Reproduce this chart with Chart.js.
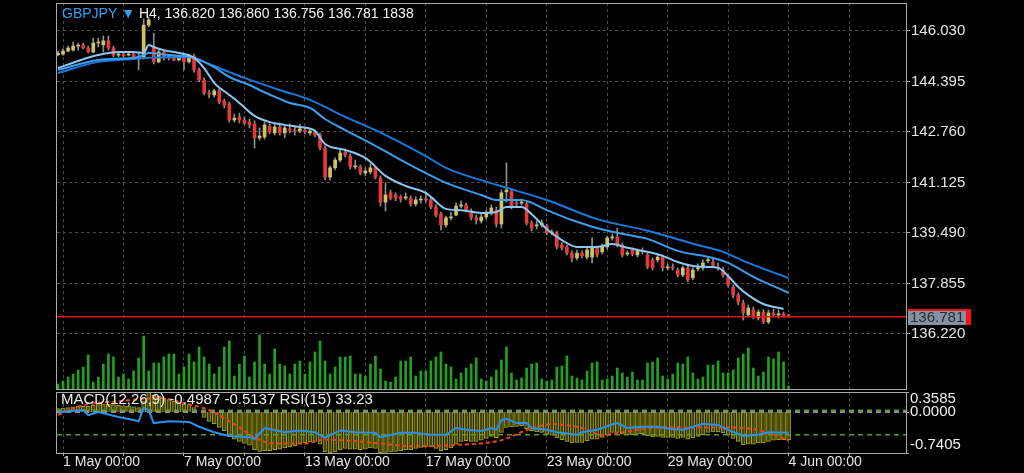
<!DOCTYPE html>
<html>
<head>
<meta charset="utf-8">
<script src="https://cdn.jsdelivr.net/npm/chart.js@4.4.1/dist/chart.umd.min.js"></script>
<style>
  html, body { margin: 0; background: #000; }
  #wrap { position: relative; width: 1024px; height: 473px; }
  canvas { position: absolute; left: 0; top: 0; }
</style>
</head>
<body>
<div id="wrap">
  <canvas id="main" width="1024" height="473"></canvas>
  <canvas id="macd" width="1024" height="473"></canvas>
</div>
<script>
// GBPJPY H4, 30 Apr 20:00 .. 4 Jun 00:00 (bar index 0..145)
const symbolText = 'GBPJPY';
const headerText = 'H4, 136.820 136.860 136.756 136.781 1838';
const macdText = 'MACD(12,26,9) -0.4987 -0.5137 RSI(15) 33.23';

const timeLabels = ['1 May 00:00', '7 May 00:00', '13 May 00:00', '17 May 00:00', '23 May 00:00', '29 May 00:00', '4 Jun 00:00'];
const timeLabelBars = [1, 25, 49, 73, 97, 121, 145];
const gridBars = [1, 13, 25, 37, 49, 61, 73, 85, 97, 109, 121, 133, 145, 157];
const priceTicks = [146.030, 144.395, 142.760, 141.125, 139.490, 137.855, 136.220];
const macdTicks = [0.3585, 0.0000, -0.7405];
const rsiLevels = [70, 30];

const opens = [
  145.26,145.28,145.38,145.41,145.54,145.58,145.48,145.35,145.64,145.58,
  145.71,145.48,145.25,145.28,145.25,145.28,145.16,145.19,146.22,145.48,
  145.03,145.35,145.16,145.19,145.09,145.16,145.03,145.22,144.77,144.44,
  144.02,143.96,144.09,143.76,143.67,143.15,143.25,143.15,143.08,143.02,
  142.57,142.60,142.95,142.73,142.92,142.73,142.86,142.82,142.79,142.82,
  142.73,142.76,142.66,142.24,141.30,141.60,141.85,142.11,141.98,141.63,
  141.63,141.43,141.47,141.60,141.27,140.49,140.79,140.72,140.66,140.62,
  140.62,140.43,140.56,140.59,140.56,140.33,140.11,139.75,139.98,140.07,
  140.36,140.40,140.20,139.98,139.88,140.01,140.14,140.23,139.78,140.82,
  140.85,140.46,140.46,140.43,139.81,139.72,139.75,139.72,139.49,139.49,
  139.10,139.04,138.84,138.68,138.84,138.71,138.71,139.01,138.88,139.04,
  139.33,139.36,139.10,138.81,138.94,138.78,138.91,138.78,138.62,138.62,
  138.71,138.36,138.39,138.29,138.13,138.36,138.04,138.33,138.36,138.59,
  138.55,138.39,138.29,138.07,137.74,137.48,137.22,136.84,137.00,136.74,
  136.93,136.61,136.90,136.84,136.87,136.820
];
const highs = [
  145.38,145.45,145.54,145.67,145.64,145.64,145.54,145.80,145.80,145.87,
  145.87,145.54,145.35,145.31,145.35,145.31,145.31,146.42,146.48,145.96,
  145.41,145.41,145.25,145.25,145.22,145.22,145.28,145.28,144.83,144.51,
  144.12,144.15,144.15,143.83,143.73,143.34,143.37,143.25,143.18,143.12,
  142.89,143.08,143.02,143.02,143.05,142.99,143.02,142.95,143.02,142.92,
  142.86,142.82,142.73,142.31,141.66,141.92,142.18,142.21,142.05,141.85,
  141.69,141.60,141.72,141.66,141.34,141.11,140.88,140.79,140.72,140.79,
  140.69,140.66,140.69,140.79,140.62,140.40,140.17,140.04,140.17,140.46,
  140.53,140.46,140.27,140.07,140.11,140.23,140.40,140.33,140.88,141.76,
  140.92,140.56,140.59,140.49,139.88,139.88,139.91,139.78,139.59,139.55,
  139.17,139.10,138.91,138.94,138.91,139.04,139.33,139.07,139.13,139.39,
  139.46,139.65,139.17,138.91,139.01,138.97,139.01,138.84,138.68,138.78,
  138.78,138.49,138.49,138.36,138.42,138.42,138.36,138.49,138.62,138.71,
  138.68,138.52,138.39,138.13,137.81,137.55,137.32,137.16,137.09,137.00,
  137.00,137.00,137.03,137.00,136.93,136.860
];
const lows = [
  145.22,145.25,145.35,145.38,145.41,145.45,145.32,145.32,145.51,145.35,
  145.41,145.19,145.19,145.19,145.22,145.12,144.77,145.12,146.16,144.96,
  145.00,145.09,145.09,145.06,145.06,144.77,145.00,144.70,144.38,143.96,
  143.86,143.89,143.67,143.54,143.08,143.08,143.05,142.99,142.89,142.24,
  142.50,142.53,142.70,142.66,142.66,142.57,142.73,142.66,142.73,142.70,
  142.66,142.60,142.18,141.21,141.21,141.53,141.79,141.95,141.56,141.56,
  141.37,141.34,141.40,141.24,140.36,140.20,140.56,140.53,140.49,140.56,
  140.36,140.36,140.46,140.49,140.27,140.01,139.59,139.68,139.91,140.04,
  140.30,140.17,139.91,139.78,139.81,139.94,140.07,139.68,139.65,140.49,
  140.27,140.33,140.40,139.75,139.55,139.62,139.68,139.43,139.43,138.97,
  138.94,138.78,138.55,138.62,138.68,138.65,138.52,138.71,138.81,138.97,
  139.26,139.04,138.71,138.75,138.75,138.71,138.81,138.33,138.29,138.55,
  138.26,138.29,138.29,138.07,138.07,137.91,137.97,138.26,138.29,138.52,
  138.39,138.29,138.07,137.74,137.39,137.16,136.67,136.77,136.71,136.67,
  136.55,136.55,136.77,136.74,136.76,136.756
];
const closes = [
  145.31,145.38,145.48,145.54,145.56,145.48,145.35,145.64,145.67,145.71,
  145.48,145.25,145.28,145.23,145.28,145.16,145.19,146.22,146.39,145.03,
  145.35,145.16,145.19,145.09,145.16,145.03,145.22,144.77,144.44,144.02,
  143.99,144.09,143.73,143.63,143.15,143.21,143.15,143.05,142.99,142.57,
  142.63,142.99,142.76,142.92,142.73,142.89,142.82,142.79,142.86,142.76,
  142.79,142.66,142.24,141.30,141.60,141.85,142.08,142.02,141.63,141.66,
  141.43,141.50,141.60,141.30,140.49,140.72,140.62,140.62,140.59,140.66,
  140.43,140.56,140.59,140.56,140.33,140.07,139.75,139.98,140.01,140.36,
  140.40,140.23,139.98,139.91,140.01,140.14,140.30,139.78,140.79,140.88,
  140.33,140.43,140.49,139.81,139.65,139.75,139.81,139.49,139.52,139.04,
  139.01,138.84,138.68,138.84,138.75,138.94,139.01,138.78,139.04,139.33,
  139.36,139.10,138.78,138.84,138.81,138.91,138.88,138.39,138.36,138.71,
  138.36,138.39,138.36,138.13,138.36,137.97,138.29,138.36,138.52,138.62,
  138.45,138.36,138.13,137.81,137.48,137.26,136.90,137.06,136.77,136.93,
  136.61,136.90,136.84,136.87,136.82,136.781
];
const volumes = [
  3000,
  4800,7200,9000,11400,13200,20400,4200,7200,15000,21000,
  19200,7200,9000,6000,10800,18600,31800,10800,15600,15600,
  19200,21000,21000,9000,13200,21000,16200,25200,19200,15000,
  9000,13200,25200,28800,7800,15000,19800,7200,16200,32400,
  15000,9000,24000,15000,13800,9000,15000,16800,9000,16200,
  22200,28800,16800,9000,13200,19200,19200,19800,9000,9000,
  7800,15000,19800,12000,4800,4200,7200,16800,16800,19200,
  7800,10800,10800,16800,19200,22200,15000,
  13200,6000,9600,12600,15000,18600,6000,4800,7200,11400,
  17400,25200,9600,5400,6600,12600,15000,15600,6000,4800,
  5400,13200,13800,19800,7800,6600,5400,10800,15600,16200,
  5400,6000,7800,12600,9600,7200,10200,5400,5400,15600,
  16200,18600,7800,6000,9000,15600,15000,19200,9600,6000,
  7200,14400,14400,16800,9600,9600,11400,18600,21000,24600,
  12600,7800,10200,19200,18000,22200,16200,1838
];

// moving averages, read at selected bars
const fastBars = [0,4,8,12,15,17,18,19,21,24,27,29,31,34,36,39,42,45,48,51,53,57,61,65,69,73,74,77,80,84,87,89,92,94,97,100,103,107,110,113,117,120,123,126,129,131,133,135,137,140,144];
const fastValues = [144.83,145.06,145.25,145.35,145.35,145.32,145.58,145.51,145.41,145.32,145.16,144.83,144.35,143.96,143.70,143.28,143.08,142.99,142.92,142.79,142.37,142.18,141.92,141.34,141.01,140.79,140.66,140.27,140.23,140.14,140.17,140.33,140.33,140.10,139.62,139.26,139.04,139.04,139.13,139.01,138.88,138.75,138.55,138.42,138.39,138.36,138.10,137.74,137.48,137.19,137.03];
const midBars = [0,8,16,18,22,27,31,34,38,40,44,46,50,53,57,62,67,73,77,84,87,92,97,102,107,113,117,123,130,133,138,145];
const midValues = [144.77,145.09,145.19,145.32,145.25,145.16,144.86,144.54,144.28,144.12,143.83,143.70,143.54,143.18,142.82,142.40,141.95,141.43,141.11,140.72,140.56,140.56,140.23,139.91,139.65,139.43,139.30,138.91,138.68,138.52,138.07,137.55];
const slowBars = [0,8,15,18,26,30,34,37,44,50,57,63,73,77,87,97,107,117,127,132,137,145];
const slowValues = [144.67,145.03,145.12,145.16,145.19,144.96,144.70,144.51,144.12,143.80,143.25,142.82,141.98,141.60,141.05,140.56,139.94,139.56,139.10,138.88,138.52,138.03];

// MACD main (histogram), signal and RSI
const macdMain = [
  0.06,0.07,0.08,0.09,0.10,0.10,0.10,0.12,0.13,0.14,
  0.14,0.13,0.12,0.11,0.10,0.09,0.08,0.20,0.3585,0.30,
  0.28,0.25,0.22,0.19,0.17,0.14,0.13,0.08,0.00,-0.10,
  -0.17,-0.21,-0.28,-0.34,-0.44,-0.49,-0.53,-0.57,-0.60,-0.68,
  -0.71,-0.70,-0.70,-0.68,-0.67,-0.65,-0.63,-0.61,-0.58,-0.56,
  -0.54,-0.53,-0.58,-0.72,-0.74,-0.72,-0.68,-0.66,-0.67,-0.67,
  -0.68,-0.67,-0.65,-0.66,-0.7405,-0.73,-0.72,-0.71,-0.70,-0.68,
  -0.68,-0.66,-0.64,-0.62,-0.63,-0.66,-0.70,-0.68,-0.65,-0.58,
  -0.53,-0.52,-0.53,-0.53,-0.51,-0.48,-0.44,-0.47,-0.37,-0.28,
  -0.27,-0.26,-0.25,-0.30,-0.34,-0.36,-0.37,-0.40,-0.42,-0.47,
  -0.50,-0.53,-0.56,-0.55,-0.55,-0.52,-0.49,-0.49,-0.46,-0.41,
  -0.37,-0.37,-0.40,-0.41,-0.41,-0.40,-0.39,-0.43,-0.45,-0.44,
  -0.46,-0.46,-0.46,-0.48,-0.46,-0.49,-0.47,-0.44,-0.41,-0.37,
  -0.36,-0.36,-0.38,-0.42,-0.48,-0.53,-0.59,-0.58,-0.58,-0.56,
  -0.56,-0.53,-0.51,-0.50,-0.50,-0.4987
];
const signalBars = [0,5,12,20,25,30,36,39,43,49,53,58,64,71,78,88,93,98,104,108,112,119,127,133,139,145];
const signalValues = [-0.05,0.12,0.19,0.25,0.16,0.03,-0.28,-0.46,-0.57,-0.57,-0.50,-0.52,-0.57,-0.62,-0.60,-0.51,-0.33,-0.22,-0.29,-0.42,-0.37,-0.28,-0.28,-0.28,-0.33,-0.5137];
const rsiBars = [0,5,6,8,12,15,16,17,18,19,22,26,28,31,34,38,39,41,45,48,51,53,56,59,63,64,68,71,74,77,79,81,84,86,87,88,89,91,93,94,97,99,103,104,107,110,111,113,116,119,122,124,128,131,133,136,139,141,145];
const rsiValues = [67,70,62,67,59,54,52,74,70,49,52,51,43,34,28,26,23,41,34,37,34,25,37,34,33,26,33,33,30,30,41,38,36,41,38,54,56,49,49,41,38,34,30,34,38,47,49,41,43,43,39,38,48,46,38,28,30,34,33.23];

const X_MIN = -0.2, X_MAX = 168.3;
const lastPrice = closes[closes.length - 1];
const bars = closes.map((c, i) => i);
const pairs = (xs, ys) => xs.map((x, i) => ({ x, y: ys[i] }));

Chart.defaults.font.family = '"Liberation Sans", Arial, sans-serif';
Chart.defaults.color = '#e6e6e6';

const xGridScale = {
  type: 'linear', min: X_MIN, max: X_MAX, offset: false,
  afterBuildTicks: s => { s.ticks = gridBars.map(v => ({ value: v })); },
  grid: { color: '#4a4a4a', offset: false },
  border: { display: false, dash: [3, 3] }
};

const mainDecor = {
  id: 'mainDecor',
  afterDraw(chart) {
    const { ctx, chartArea: a, scales } = chart;
    ctx.save();
    ctx.strokeStyle = '#a8a8a8';
    ctx.lineWidth = 1;
    ctx.strokeRect(a.left - 0.5, a.top + 0.5, a.right - a.left + 1, a.bottom - a.top);
    ctx.font = '14px "Liberation Sans"';
    ctx.textBaseline = 'middle';
    ctx.fillStyle = '#2f9ff0';
    const head = symbolText + ' \u25BC';
    ctx.fillText(head, 62, 14);
    const x = 62 + ctx.measureText(head + ' ').width;
    ctx.fillStyle = '#f2f2f2';
    ctx.fillText(headerText, x, 14);
    const y = Math.round(scales.y.getPixelForValue(lastPrice));
    ctx.fillStyle = '#ff1010';
    ctx.fillRect(a.right + 2, y - 8, 63, 16);
    ctx.fillStyle = '#8393a5';
    ctx.fillRect(a.right + 2, y - 6, 58, 14);
    ctx.fillStyle = '#2b2b2b';
    ctx.font = '15px "Liberation Sans"';
    ctx.fillText(lastPrice.toFixed(3), a.right + 4, y + 1);
    ctx.restore();
  }
};

new Chart(document.getElementById('main'), {
  type: 'bar',
  data: {
    datasets: [
      { type: 'line', label: 'price', data: [{ x: X_MIN, y: lastPrice }, { x: X_MAX, y: lastPrice }],
        borderColor: '#e01414', borderWidth: 1.5, pointRadius: 0, order: 0 },
      { type: 'line', label: 'fast MA', data: pairs(fastBars, fastValues), borderColor: '#8ec6f2',
        borderWidth: 2, pointRadius: 0, cubicInterpolationMode: 'monotone', order: 1 },
      { type: 'line', label: 'mid MA', data: pairs(midBars, midValues), borderColor: '#3d9cec',
        borderWidth: 2, pointRadius: 0, cubicInterpolationMode: 'monotone', order: 2 },
      { type: 'line', label: 'slow MA', data: pairs(slowBars, slowValues), borderColor: '#1b78dc',
        borderWidth: 2, pointRadius: 0, cubicInterpolationMode: 'monotone', order: 3 },
      { label: 'body', data: bars.map(i => ({ x: i, y: [opens[i], closes[i]] })),
        backgroundColor: bars.map(i => closes[i] >= opens[i] ? '#cdc565' : '#e23b3b'),
        barThickness: 3, minBarLength: 1, grouped: false, order: 5 },
      { label: 'wick', data: bars.map(i => ({ x: i, y: [lows[i], highs[i]] })),
        backgroundColor: '#8f8f8f', barThickness: 1, grouped: false, order: 6 },
      { label: 'volume', data: bars.map(i => ({ x: i, y: volumes[i] })), yAxisID: 'yv',
        backgroundColor: '#22a022', barThickness: 2, grouped: false, order: 7 }
    ]
  },
  options: {
    responsive: false,
    animation: false,
    layout: { padding: { left: 57, top: 3, right: 0, bottom: 84 } },
    plugins: { legend: { display: false }, tooltip: { enabled: false } },
    scales: {
      x: Object.assign({}, xGridScale, {
        ticks: { display: false },
        grid: { color: '#4a4a4a', offset: false, drawTicks: false },
        afterFit: s => { s.height = 0; s.paddingLeft = 0; s.paddingRight = 0; }
      }),
      y: {
        position: 'right', min: 134.439, max: 146.936,
        afterBuildTicks: s => { s.ticks = priceTicks.map(v => ({ value: v })); },
        ticks: { color: '#e6e6e6', font: { size: 15 }, padding: 1, autoSkip: false,
                 callback: v => v.toFixed(3) },
        grid: { color: '#4a4a4a', tickColor: '#aaaaaa', tickLength: 4 },
        border: { display: false, dash: [3, 3] },
        afterFit: s => { s.width = 118; s.paddingTop = 0; s.paddingBottom = 0; }
      },
      yv: { display: false, min: 0, max: 231600 }
    }
  },
  plugins: [mainDecor]
});

const macdDecor = {
  id: 'macdDecor',
  afterDraw(chart) {
    const { ctx, chartArea: a, scales } = chart;
    ctx.save();
    ctx.strokeStyle = '#a8a8a8';
    ctx.lineWidth = 1;
    ctx.strokeRect(a.left - 0.5, a.top + 0.5, a.right - a.left + 1, a.bottom - a.top);
    ctx.font = '15px "Liberation Sans"';
    ctx.textBaseline = 'middle';
    ctx.fillStyle = '#eeeeee';
    ctx.fillText(macdText, 61, a.top + 8);
    macdTicks.forEach(v => {
      const p = scales.ym.getPixelForValue(v);
      const y = Math.min(Math.max(p, a.top + 7), a.bottom - 8);
      ctx.strokeStyle = '#aaaaaa';
      ctx.beginPath();
      ctx.moveTo(a.right, Math.round(p) + 0.5);
      ctx.lineTo(a.right + 3, Math.round(p) + 0.5);
      ctx.stroke();
      ctx.fillText(v.toFixed(4), a.right + 4, y);
    });
    ctx.restore();
  }
};

new Chart(document.getElementById('macd'), {
  type: 'bar',
  data: {
    datasets: [
      { type: 'line', label: 'RSI(15)', data: pairs(rsiBars, rsiValues), yAxisID: 'yr',
        borderColor: '#2b8ff0', borderWidth: 2, pointRadius: 0, order: 1 },
      { type: 'line', label: 'signal', data: pairs(signalBars, signalValues), yAxisID: 'ym',
        borderColor: '#f2401e', borderWidth: 2, borderDash: [4, 3], pointRadius: 0,
        cubicInterpolationMode: 'monotone', order: 2 },
      { type: 'line', label: 'zero', data: [{ x: X_MIN, y: 0 }, { x: X_MAX, y: 0 }], yAxisID: 'ym',
        borderColor: '#8a8a8a', borderWidth: 2, borderDash: [5, 4], pointRadius: 0, order: 3 },
      ...rsiLevels.map(lv => ({ type: 'line', label: 'RSI ' + lv, data: [{ x: X_MIN, y: lv }, { x: X_MAX, y: lv }],
        yAxisID: 'yr', borderColor: '#5a9e1c', borderWidth: 1.5, borderDash: [5, 4], pointRadius: 0, order: 4 })),
      { label: 'MACD', data: bars.map(i => ({ x: i, y: macdMain[i] })), yAxisID: 'ym',
        backgroundColor: '#46460a', borderColor: '#a3a31e', borderWidth: 1,
        barThickness: 4, grouped: false, order: 5 }
    ]
  },
  options: {
    responsive: false,
    animation: false,
    layout: { padding: { left: 57, top: 392, right: 118, bottom: 0 } },
    plugins: { legend: { display: false }, tooltip: { enabled: false } },
    scales: {
      x: Object.assign({}, xGridScale, {
        ticks: {
          display: true, color: '#e6e6e6', align: 'start', padding: 0, maxRotation: 0, autoSkip: false,
          font: { size: 14, lineHeight: 0.9 },
          callback: v => { const k = timeLabelBars.indexOf(v); return k >= 0 ? timeLabels[k] : ''; }
        },
        grid: { color: '#4a4a4a', offset: false, tickColor: '#aaaaaa', tickLength: 3 },
        afterFit: s => { s.height = 20; s.paddingLeft = 0; s.paddingRight = 0; }
      }),
      y: { display: false },
      ym: { display: false, min: -0.7405, max: 0.3585 },
      yr: { display: false, min: 0, max: 100 }
    }
  },
  plugins: [macdDecor]
});
</script>
</body>
</html>
